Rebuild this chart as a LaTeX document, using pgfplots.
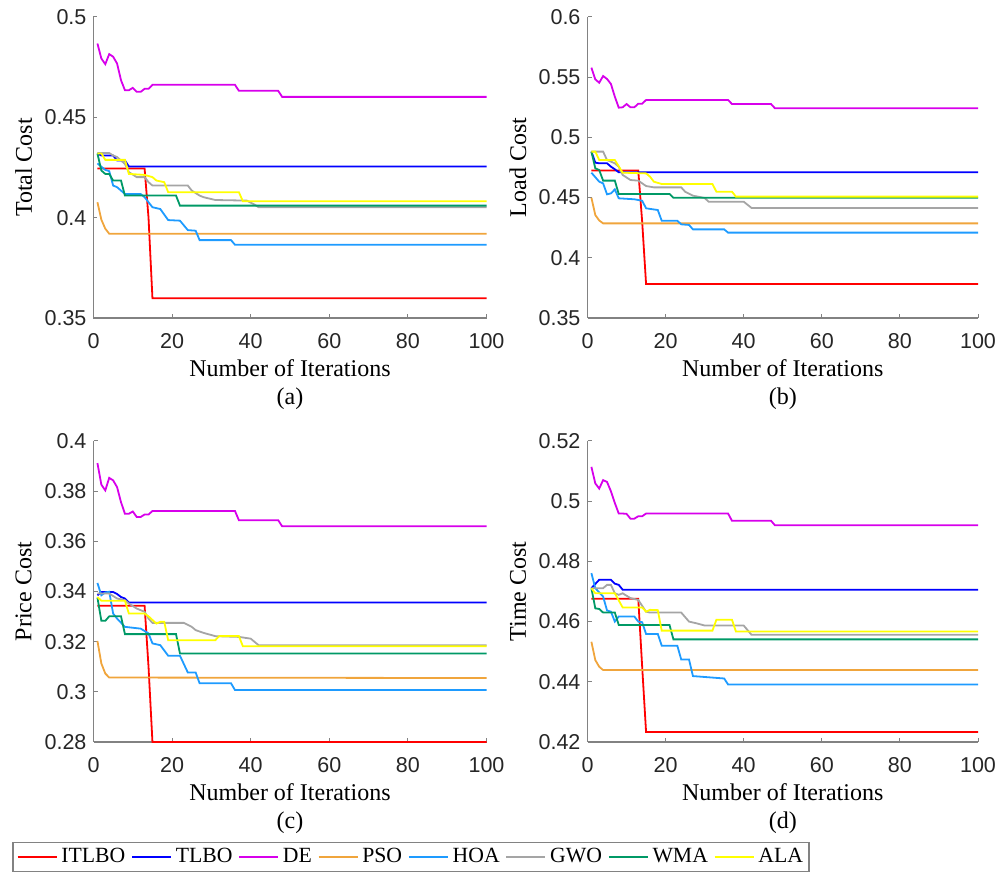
\documentclass[border=0pt]{standalone}
\usepackage{fontspec}
\setmainfont{Liberation Serif}
\newfontfamily\arialf{Liberation Sans}
\usepackage{pgfplots}
\pgfplotsset{compat=1.18}
\definecolor{cITLBO}{RGB}{255,0,0}
\definecolor{cTLBO}{RGB}{0,0,255}
\definecolor{cDE}{RGB}{215,0,235}
\definecolor{cPSO}{RGB}{240,165,60}
\definecolor{cHOA}{RGB}{30,155,255}
\definecolor{cGWO}{RGB}{165,165,165}
\definecolor{cWMA}{RGB}{0,153,102}
\definecolor{cALA}{RGB}{255,255,0}
\definecolor{axc}{RGB}{130,130,130}
\pgfplotsset{
  myax/.style={
    scale only axis, height=150.5pt,
    xmin=0, xmax=100, xtick={0,20,40,60,80,100},
    axis x line*=bottom, axis y line*=left,
    axis line style={draw=axc, line width=0.55pt, -},
    tick align=inside, major tick length=2pt,
    tick style={draw=axc, line width=0.5pt},
    scaled ticks=false,
    /pgf/number format/assume math mode=true,
    ticklabel style={font=\arialf\fontsize{10.75}{12}\selectfont, text=black!85},
    xticklabel style={yshift=-4pt},
    label style={font=\fontsize{12}{14}\selectfont},
    xlabel={Number of Iterations},
    xlabel style={at={(axis description cs:0.5,-0.196)}, anchor=base},
    ylabel style={at={(axis description cs:-0.178,0.5)}, anchor=center},
    every axis plot/.append style={line width=0.9pt, mark=none},
    clip=false,
  }
}
\begin{document}
\begin{tikzpicture}
\useasboundingbox (0pt,0pt) rectangle (504pt,439.5pt);
% (a)
\begin{axis}[myax, width=196.5pt, at={(46.75pt,280.5pt)}, anchor=south west,
  ymin=0.35, ymax=0.5, ytick={0.35,0.4,0.45,0.5}, ylabel={Total Cost}]
\addplot[cITLBO] coordinates {(1,0.4245) (13,0.4245) (14,0.40) (15,0.3598) (100,0.3598)};
\addplot[cTLBO] coordinates {(1,0.432) (2,0.431) (5,0.431) (6,0.4285) (8,0.4285) (9,0.4255) (100,0.4255)};
\addplot[cDE] coordinates {(1,0.4868) (2,0.4793) (3,0.4765) (4,0.4815) (5,0.4802) (6,0.4768) (7,0.4685) (8,0.4635) (9,0.4635) (10,0.4647) (11,0.4627) (12,0.4627) (13,0.4642) (14,0.4642) (15,0.4662) (36,0.4662) (37,0.4632) (47,0.4632) (48,0.4602) (100,0.4602)};
\addplot[cPSO] coordinates {(1,0.4077) (2,0.399) (3,0.3945) (4,0.392) (100,0.392)};
\addplot[cHOA] coordinates {(1,0.427) (3,0.4238) (4,0.4232) (5,0.416) (6,0.4152) (8,0.4118) (12,0.4118) (13,0.4102) (15,0.4052) (17,0.4043) (19,0.3988) (22,0.3985) (24,0.3938) (26,0.3935) (27,0.3888) (35,0.3888) (36,0.3865) (100,0.3865)};
\addplot[cGWO] coordinates {(1,0.4322) (4,0.4322) (5,0.431) (6,0.4302) (7,0.4285) (8,0.4268) (9,0.4227) (11,0.4202) (13,0.4202) (14,0.4177) (15,0.416) (24,0.416) (25,0.4135) (27,0.411) (28,0.4102) (31,0.4088) (39,0.4085) (41,0.4065) (42,0.4052) (100,0.4052)};
\addplot[cWMA] coordinates {(1,0.432) (2,0.4235) (3,0.4218) (4,0.4218) (5,0.4185) (7,0.4185) (8,0.411) (21,0.411) (22,0.406) (100,0.406)};
\addplot[cALA] coordinates {(1,0.432) (2,0.432) (3,0.4288) (8,0.4288) (9,0.4218) (13,0.4213) (15,0.4202) (16,0.4185) (18,0.4177) (19,0.4127) (37,0.4127) (38,0.4082) (100,0.4082)};
\node[font=\fontsize{12}{14}\selectfont, anchor=base] at (axis description cs:0.5,-0.289) {(a)};
\end{axis}
% (b)
\begin{axis}[myax, width=195.25pt, at={(293.75pt,280.5pt)}, anchor=south west,
  ymin=0.35, ymax=0.6, ytick={0.35,0.4,0.45,0.5,0.55,0.6}, ylabel={Load Cost}]
\addplot[cITLBO] coordinates {(1,0.4725) (13,0.4725) (14,0.43) (15,0.3782) (100,0.3782)};
\addplot[cTLBO] coordinates {(1,0.4882) (2,0.479) (3,0.4785) (5,0.4785) (6,0.4757) (7,0.4735) (8,0.471) (100,0.471)};
\addplot[cDE] coordinates {(1,0.5579) (2,0.5482) (3,0.5454) (4,0.551) (5,0.5485) (6,0.5444) (7,0.5338) (8,0.5247) (9,0.525) (10,0.5277) (11,0.525) (12,0.525) (13,0.528) (14,0.528) (15,0.5311) (36,0.5311) (37,0.5277) (47,0.5277) (48,0.5242) (100,0.5242)};
\addplot[cPSO] coordinates {(1,0.4499) (2,0.4355) (3,0.431) (4,0.4286) (100,0.4286)};
\addplot[cHOA] coordinates {(1,0.4707) (3,0.4632) (4,0.4618) (5,0.4527) (6,0.4535) (7,0.4568) (8,0.4494) (12,0.4486) (14,0.4474) (15,0.4411) (18,0.4397) (19,0.4308) (23,0.4308) (24,0.4278) (26,0.4273) (27,0.4236) (35,0.4236) (36,0.4209) (100,0.4209)};
\addplot[cGWO] coordinates {(1,0.4882) (4,0.4882) (5,0.4812) (7,0.4785) (8,0.4757) (9,0.4688) (11,0.4646) (13,0.4641) (15,0.4596) (17,0.4585) (24,0.4585) (25,0.4549) (27,0.4516) (30,0.4497) (31,0.4466) (40,0.4466) (42,0.4414) (100,0.4414)};
\addplot[cWMA] coordinates {(1,0.4882) (2,0.4743) (3,0.4729) (4,0.4641) (7,0.4641) (8,0.453) (21,0.453) (22,0.4499) (100,0.4499)};
\addplot[cALA] coordinates {(1,0.4882) (2,0.4882) (3,0.4812) (7,0.4812) (9,0.4707) (15,0.4701) (16,0.4674) (17,0.4632) (19,0.4613) (32,0.4613) (33,0.4549) (37,0.4549) (38,0.4508) (100,0.4508)};
\node[font=\fontsize{12}{14}\selectfont, anchor=base] at (axis description cs:0.5,-0.289) {(b)};
\end{axis}
% (c)
\begin{axis}[myax, width=196.5pt, at={(46.75pt,68.5pt)}, anchor=south west,
  ymin=0.28, ymax=0.4, ytick={0.28,0.3,0.32,0.34,0.36,0.38,0.4}, ylabel={Price Cost},
  legend columns=8,
  legend image code/.code={\draw[#1, line width=0.75pt] (0pt,0pt) -- (19.5pt,0pt);},
  legend style={at={(axis description cs:-0.2066,-0.3317)}, anchor=north west,
    draw=axc, line width=0.6pt, font=\fontsize{10.85}{12}\selectfont,
    inner xsep=2pt, inner ysep=1pt,
    nodes={inner xsep=1pt},
    /tikz/every even column/.append style={column sep=2pt},
    /tikz/every odd column/.append style={column sep=1pt}},
  legend entries={ITLBO,TLBO,DE,PSO,HOA,GWO,WMA,ALA}]
\addplot[cITLBO] coordinates {(1,0.3343) (13,0.3343) (14,0.31) (15,0.28) (100,0.28)};
\addplot[cTLBO] coordinates {(1,0.3385) (2,0.3398) (5,0.3398) (6,0.339) (7,0.3378) (8,0.3372) (9,0.3356) (100,0.3356)};
\addplot[cDE] coordinates {(1,0.3912) (2,0.3826) (3,0.3803) (4,0.3853) (5,0.3843) (6,0.3816) (7,0.3756) (8,0.371) (9,0.371) (10,0.3719) (11,0.3697) (12,0.3697) (13,0.3707) (14,0.3707) (15,0.3721) (36,0.3721) (37,0.3684) (47,0.3684) (48,0.366) (100,0.366)};
\addplot[cPSO] coordinates {(1,0.3203) (2,0.3113) (3,0.3073) (4,0.3057) (100,0.3055)};
\addplot[cHOA] coordinates {(1,0.3434) (2,0.3385) (3,0.3396) (4,0.3399) (5,0.3312) (6,0.3292) (8,0.3259) (12,0.3252) (14,0.3233) (15,0.3193) (17,0.3186) (19,0.3144) (22,0.3144) (24,0.3077) (26,0.3077) (27,0.3034) (35,0.3034) (36,0.3007) (100,0.3007)};
\addplot[cGWO] coordinates {(1,0.3392) (4,0.3392) (6,0.3372) (8,0.3365) (9,0.3352) (11,0.3332) (13,0.3319) (14,0.3292) (15,0.3275) (23,0.3275) (25,0.3259) (26,0.3246) (28,0.3235) (31,0.3222) (37,0.3219) (40,0.3212) (42,0.3186) (100,0.3186)};
\addplot[cWMA] coordinates {(1,0.3376) (2,0.3283) (3,0.3283) (4,0.3301) (7,0.3301) (8,0.323) (21,0.323) (22,0.3153) (100,0.3153)};
\addplot[cALA] coordinates {(1,0.3378) (2,0.3363) (8,0.3363) (9,0.3312) (13,0.3312) (14,0.3301) (16,0.3272) (17,0.3279) (18,0.3279) (19,0.3206) (31,0.3206) (32,0.3222) (37,0.3222) (38,0.3182) (100,0.3182)};
\node[font=\fontsize{12}{14}\selectfont, anchor=base] at (axis description cs:0.5,-0.289) {(c)};
\end{axis}
% (d)
\begin{axis}[myax, width=195.25pt, at={(293.75pt,68.5pt)}, anchor=south west,
  ymin=0.42, ymax=0.52, ytick={0.42,0.44,0.46,0.48,0.5,0.52}, ylabel={Time Cost}]
\addplot[cITLBO] coordinates {(1,0.4676) (13,0.4676) (14,0.445) (15,0.4233) (100,0.4233)};
\addplot[cTLBO] coordinates {(1,0.4711) (3,0.4739) (6,0.4739) (7,0.4726) (8,0.4722) (9,0.4706) (100,0.4706)};
\addplot[cDE] coordinates {(1,0.5114) (2,0.5059) (3,0.5042) (4,0.507) (5,0.5064) (6,0.5033) (7,0.4994) (8,0.4959) (9,0.4959) (10,0.4958) (11,0.4942) (12,0.4942) (13,0.495) (14,0.495) (15,0.4959) (36,0.4959) (37,0.4935) (47,0.4935) (48,0.492) (100,0.492)};
\addplot[cPSO] coordinates {(1,0.4533) (2,0.4472) (3,0.445) (4,0.4439) (100,0.4439)};
\addplot[cHOA] coordinates {(1,0.4761) (2,0.4711) (4,0.4683) (5,0.4637) (6,0.4633) (7,0.46) (8,0.4617) (12,0.4617) (13,0.46) (14,0.4598) (15,0.4559) (18,0.4559) (19,0.452) (23,0.452) (24,0.4474) (26,0.4474) (27,0.4419) (32,0.4414) (35,0.4411) (36,0.4391) (100,0.4391)};
\addplot[cGWO] coordinates {(1,0.4711) (4,0.4711) (5,0.4722) (6,0.4722) (7,0.4694) (8,0.4689) (9,0.4694) (11,0.4678) (13,0.4672) (15,0.4633) (16,0.463) (24,0.463) (26,0.46) (28,0.4594) (30,0.4587) (40,0.4587) (42,0.4556) (100,0.4556)};
\addplot[cWMA] coordinates {(1,0.4711) (2,0.4644) (3,0.4642) (4,0.463) (7,0.463) (8,0.4589) (21,0.4589) (22,0.4541) (100,0.4541)};
\addplot[cALA] coordinates {(1,0.4711) (2,0.4694) (7,0.4694) (9,0.4647) (14,0.4647) (15,0.4633) (16,0.4639) (18,0.4638) (19,0.457) (32,0.457) (33,0.4606) (37,0.4606) (38,0.4567) (100,0.4567)};
\node[font=\fontsize{12}{14}\selectfont, anchor=base] at (axis description cs:0.5,-0.289) {(d)};
\end{axis}
\end{tikzpicture}
\end{document}
